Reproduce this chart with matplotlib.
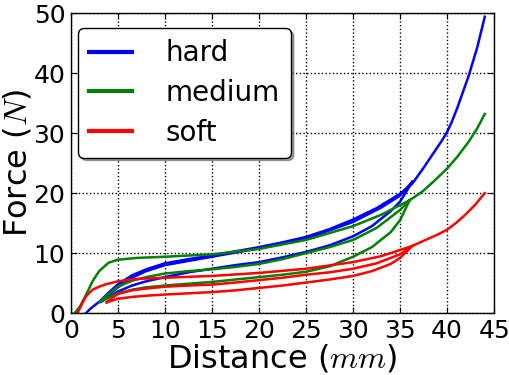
import matplotlib
matplotlib.use("Agg")
import matplotlib.pyplot as plt

plt.rcParams['font.family'] = ['DejaVu Sans']
plt.rcParams['mathtext.fontset'] = 'cm'

# hard (blue): first loading curve, second cycle up / down
hard_x = [1.6, 2.2, 3.1, 4.0, 5.0, 6.5, 8, 10, 12.5, 15, 17.5, 20, 22.5, 25, 27.5, 30, 32.5, 35, 36.3, 37.4, 38.6, 39.5, 40, 40.5, 41.1, 42.3, 43.2, 44]
hard_y = [0, 0.9, 2.0, 3.4, 4.8, 6.3, 7.3, 8.3, 9.0, 9.6, 10.3, 11.0, 11.8, 12.7, 14.0, 15.6, 17.5, 19.9, 21.6, 24.0, 26.8, 28.9, 30.2, 31.9, 34.3, 39.6, 44.3, 49.4]
hard_up_x = [3.2, 4, 5, 6.5, 8, 10, 15, 20, 25, 30, 33, 35, 36.3]
hard_up_y = [1.9, 3.0, 4.3, 5.9, 7.0, 8.0, 9.4, 10.8, 12.4, 15.2, 17.6, 19.6, 21.9]
hard_dn_x = [3.2, 4, 5, 6.5, 8, 10, 12.5, 15, 17.5, 20, 22.5, 25, 27.5, 30, 32, 34, 35, 36.3]
hard_dn_y = [1.9, 2.6, 3.6, 4.6, 5.3, 6.0, 6.8, 7.4, 8.0, 8.5, 9.3, 10.2, 11.3, 12.8, 14.5, 17.0, 18.6, 21.9]

# medium (green)
med_x = [0.4, 1.0, 1.6, 2.3, 3.0, 4.0, 5.0, 7, 10, 15, 20, 25, 30, 33, 36, 37.4, 38.6, 40, 41.1, 42.3, 43.2, 44]
med_y = [0, 1.2, 3.0, 5.3, 7.0, 8.4, 8.9, 9.2, 9.4, 9.8, 10.7, 12.2, 14.5, 16.4, 18.8, 20.3, 22.0, 24.1, 26.1, 28.6, 30.8, 33.2]
med_up_x = [3.1, 4, 5, 6.5, 8, 10, 12.5, 15, 17.5, 20, 22.5, 25, 27.5, 30, 32.5, 35, 36]
med_up_y = [1.9, 3.2, 4.4, 5.4, 6.0, 6.6, 7.0, 7.3, 7.7, 8.2, 9.0, 10.0, 11.0, 12.2, 14.2, 17.2, 18.8]
med_dn_x = [3.1, 4, 5, 6.5, 8, 10, 12.5, 15, 17.5, 20, 22.5, 25, 27.5, 30, 32, 34, 35, 36]
med_dn_y = [1.9, 2.6, 3.3, 3.9, 4.3, 4.6, 4.9, 5.2, 5.6, 6.0, 6.4, 6.9, 7.8, 9.4, 11.0, 13.5, 15.5, 18.8]

# soft (red)
soft_x = [0.7, 1.2, 1.6, 2.3, 3.0, 3.7, 5.0, 7, 10, 15, 20, 25, 30, 33, 36.3, 37, 38, 39, 40, 41, 42, 43, 44]
soft_y = [0, 1.6, 2.8, 3.9, 4.4, 4.8, 5.3, 5.7, 5.9, 6.2, 6.7, 7.4, 8.5, 9.5, 11.2, 11.7, 12.4, 13.1, 13.9, 15.1, 16.5, 18.1, 20.0]
soft_up_x = [3.8, 5, 6.5, 8, 10, 12.5, 15, 17.5, 20, 22.5, 25, 27.5, 30, 32.5, 35, 36.3]
soft_up_y = [1.8, 3.2, 3.8, 4.1, 4.4, 4.6, 4.75, 5.1, 5.5, 5.9, 6.4, 6.8, 7.4, 8.3, 9.8, 11.2]
soft_dn_x = [3.8, 5, 6.5, 8, 10, 12.5, 15, 17.5, 20, 22.5, 25, 27.5, 30, 32, 34, 35, 36.3]
soft_dn_y = [1.8, 2.4, 2.7, 2.9, 3.1, 3.3, 3.5, 3.8, 4.2, 4.6, 5.1, 5.6, 6.2, 7.0, 8.2, 9.2, 11.2]

x_ticks = [0, 5, 10, 15, 20, 25, 30, 35, 40, 45]
y_ticks = [0, 10, 20, 30, 40, 50]

fig = plt.figure(figsize=(5.1, 3.75), dpi=100)
ax = fig.add_subplot(111)
fig.subplots_adjust(left=0.139, right=0.969, bottom=0.165, top=0.965)

lw = 1.8
series = [
    ("hard", "#0000ff", hard_x, hard_y, hard_up_x, hard_up_y, hard_dn_x, hard_dn_y),
    ("medium", "#008000", med_x, med_y, med_up_x, med_up_y, med_dn_x, med_dn_y),
    ("soft", "#ff0000", soft_x, soft_y, soft_up_x, soft_up_y, soft_dn_x, soft_dn_y),
]
handles = []
for name, c, x1, y1, x2, y2, x3, y3 in series:
    h, = ax.plot(x1, y1, color=c, lw=lw, label=name)
    ax.plot(x2, y2, color=c, lw=lw)
    ax.plot(x3, y3, color=c, lw=lw)
    handles.append(h)

ax.set_xlim(0, 45)
ax.set_ylim(0, 50)
ax.set_xticks(x_ticks)
ax.set_yticks(y_ticks)
ax.grid(True, color="black", linestyle=":", linewidth=1)
ax.tick_params(direction="in", top=True, right=True, length=4, labelsize=18)
ax.tick_params(axis="x", pad=4)
ax.tick_params(axis="y", pad=4)
for s in ax.spines.values():
    s.set_color("black")
    s.set_linewidth(1)

ax.set_xlabel("Distance ($mm$)", fontsize=23, labelpad=0)
ax.set_ylabel("Force ($N$)", fontsize=23, labelpad=0)

leg = ax.legend(handles=handles, loc="upper left", bbox_to_anchor=(0.017, 0.95),
                borderaxespad=0, fontsize=20, fancybox=True, shadow=True, framealpha=1,
                handlelength=1.55, handletextpad=1.2, borderpad=0.4, labelspacing=0.42)
leg.get_frame().set_edgecolor("black")
for l in leg.get_lines():
    l.set_linewidth(3)

fig.savefig("out.png", dpi=100)
